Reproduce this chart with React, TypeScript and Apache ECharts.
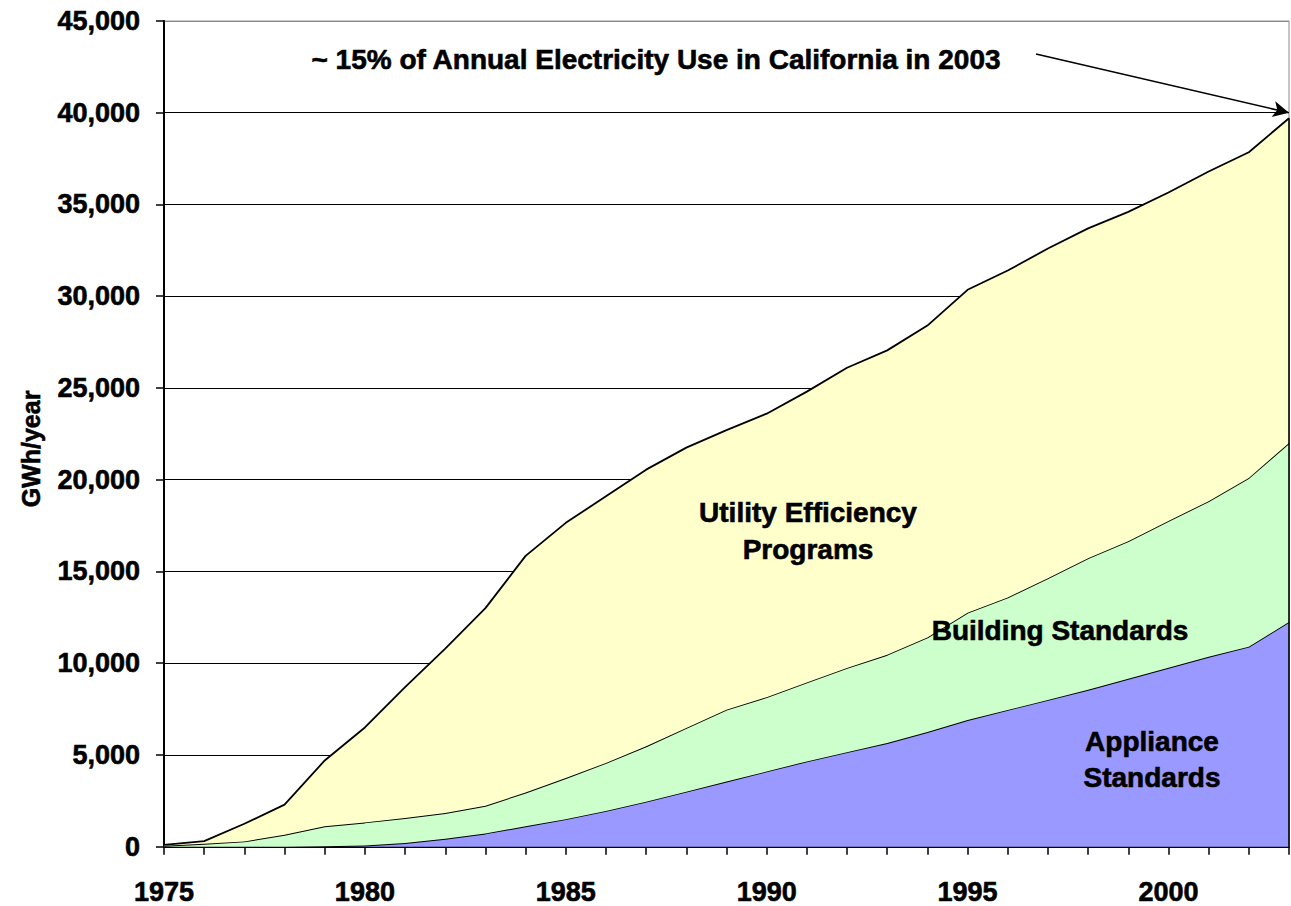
import React, { useEffect, useRef } from "react";
import * as echarts from "echarts";

const years = [
  "1975", "1976", "1977", "1978", "1979", "1980", "1981", "1982", "1983", "1984",
  "1985", "1986", "1987", "1988", "1989", "1990", "1991", "1992", "1993", "1994",
  "1995", "1996", "1997", "1998", "1999", "2000", "2001", "2002", "2003",
];

const applianceStandards = [
  0, 0, 0, 0, 20, 60, 200, 430, 720, 1110,
  1500, 1950, 2450, 3000, 3550, 4100, 4650, 5150, 5650, 6250,
  6900, 7450, 8000, 8550, 9150, 9750, 10350, 10900, 12250,
];

const buildingStandards = [
  50, 160, 290, 650, 1090, 1260, 1360, 1400, 1510, 1840,
  2240, 2610, 3020, 3470, 3920, 4050, 4300, 4590, 4810, 5150,
  5850, 6130, 6630, 7170, 7500, 8000, 8480, 9200, 9750,
];

const utilityPrograms = [
  50, 140, 960, 1640, 3590, 5180, 7140, 8970, 10770, 12900,
  13910, 14540, 15080, 15280, 15230, 15450, 15850, 16360, 16590, 17000,
  17600, 17820, 17970, 17980, 17950, 17900, 17970, 17750, 17700,
];

const yMax = 45000;
const yInterval = 5000;
const arrowTargetValue = 40000;

const seriesNames = ["Appliance Standards", "Building Standards", "Utility Efficiency Programs"];
const seriesColors = ["#9999FF", "#CCFFCC", "#FFFFCC"];

const titleText = "~ 15% of Annual Electricity Use in California in 2003";
const yAxisTitle = "GWh/year";

const FONT = "'Liberation Sans', Arial, Helvetica, sans-serif";

export default function App() {
  const ref = useRef<HTMLDivElement>(null);

  useEffect(() => {
    if (!ref.current) return;
    const chart = echarts.init(ref.current, undefined, { renderer: "svg" });
    const lastIdx = years.length - 1;
    const lastTotal =
      applianceStandards[lastIdx] + buildingStandards[lastIdx] + utilityPrograms[lastIdx];

    const splitColors: string[] = [];
    for (let v = 0; v <= yMax; v += yInterval) splitColors.push(v === yMax ? "#8c8c8c" : "#000000");

    const lineStyle = { color: "#000", width: 1.8 };
    const dataSets = [applianceStandards, buildingStandards, utilityPrograms];

    const series: any[] = dataSets.map((d, i) => ({
      name: seriesNames[i],
      type: "line",
      stack: "total",
      data: d,
      symbol: "none",
      showSymbol: false,
      lineStyle,
      areaStyle: { color: seriesColors[i], opacity: 1 },
      itemStyle: { color: seriesColors[i] },
      z: 2 + i,
    }));

    series[0].markLine = {
      silent: true,
      animation: false,
      label: { show: false },
      data: [
        [
          { x: 1036, y: 54, symbol: "none" },
          {
            coord: [years[lastIdx], arrowTargetValue],
            symbol: "arrow",
            symbolSize: [12, 16],
          },
        ],
        [
          { coord: [years[lastIdx], 0], symbol: "none" },
          { coord: [years[lastIdx], lastTotal], symbol: "none" },
        ],
      ],
      lineStyle: { color: "#000", width: 1.6, type: "solid" },
      z: 10,
    };

    const txt = (x: number, y: number, text: string, size = 28, rotation = 0) => ({
      type: "text",
      x,
      y,
      rotation,
      z: 100,
      style: {
        text,
        fill: "#000",
        font: `bold ${size}px ${FONT}`,
        textAlign: "center",
        textVerticalAlign: "middle",
        stroke: "#000",
        lineWidth: 0.6,
      },
    });

    const labelCommon = {
      color: "#000",
      fontFamily: FONT,
      fontWeight: "bold",
      fontSize: 27,
      textBorderColor: "#000",
      textBorderWidth: 0.6,
    };

    chart.setOption({
      animation: false,
      backgroundColor: "#ffffff",
      grid: {
        left: 164,
        right: 2,
        top: 21,
        bottom: 59,
        show: true,
        borderColor: "#8c8c8c",
        borderWidth: 1,
        backgroundColor: "transparent",
      },
      xAxis: {
        type: "category",
        data: years,
        boundaryGap: false,
        axisLine: { show: true, lineStyle: { color: "#000", width: 2 } },
        axisTick: { show: true, interval: 0, length: 8, lineStyle: { color: "#000", width: 1.5 } },
        axisLabel: {
          interval: 4,
          margin: 32,
          ...labelCommon,
        },
        splitLine: { show: false },
      },
      yAxis: {
        type: "value",
        min: 0,
        max: yMax,
        interval: yInterval,
        axisLine: { show: true, lineStyle: { color: "#000", width: 2 } },
        axisTick: { show: true, length: 8, lineStyle: { color: "#000", width: 1.5 } },
        axisLabel: {
          margin: 24,
          ...labelCommon,
          formatter: (v: number) => v.toLocaleString("en-US"),
        },
        splitLine: { show: true, lineStyle: { color: splitColors, width: 1 } },
      },
      series,
      graphic: [
        txt(31, 449, yAxisTitle, 25, Math.PI / 2),
        txt(656, 59, titleText),
        txt(808, 512, "Utility Efficiency"),
        txt(808, 549, "Programs"),
        txt(1060, 630, "Building Standards"),
        txt(1152, 741, "Appliance"),
        txt(1152, 777, "Standards"),
      ],
    });

    return () => chart.dispose();
  }, []);

  return (
    <div
      ref={ref}
      style={{ position: "fixed", left: 0, top: 0, width: 1291, height: 906, background: "#fff" }}
    />
  );
}
